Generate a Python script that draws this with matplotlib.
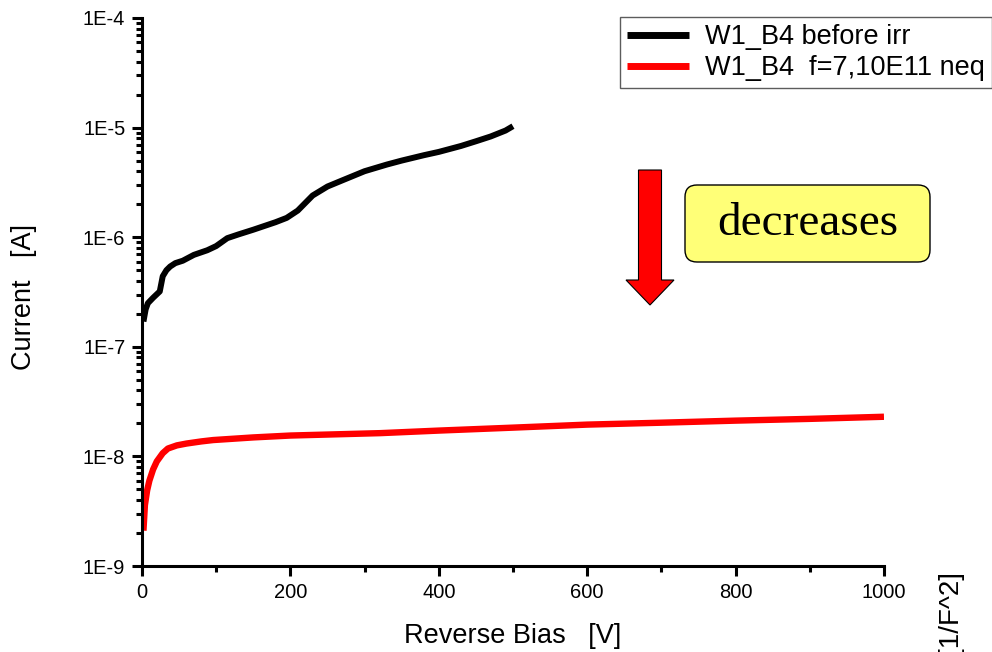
import numpy as np
import matplotlib
matplotlib.use("Agg")
import matplotlib.pyplot as plt
from matplotlib.ticker import LogLocator, FuncFormatter, MultipleLocator, NullFormatter
from matplotlib.patches import FancyArrow, FancyBboxPatch

plt.rcParams['font.family'] = ['Liberation Sans', 'DejaVu Sans']

# W1_B4 before irradiation
bias_before = [2, 5, 8, 15, 24, 28, 33, 38, 45, 55, 70, 88, 100, 115, 130, 150, 180, 195,
               210, 230, 250, 270, 300, 330, 350, 380, 400, 430, 450, 470, 490, 500]
curr_before = [1.7e-7, 2.2e-7, 2.5e-7, 2.8e-7, 3.2e-7, 4.4e-7, 5.0e-7, 5.4e-7, 5.8e-7, 6.1e-7,
               6.9e-7, 7.6e-7, 8.3e-7, 9.8e-7, 1.06e-6, 1.17e-6, 1.37e-6, 1.5e-6,
               1.75e-6, 2.4e-6, 2.9e-6, 3.3e-6, 4.0e-6, 4.6e-6, 5.0e-6, 5.6e-6, 6.0e-6,
               6.8e-6, 7.5e-6, 8.3e-6, 9.4e-6, 1.03e-5]

# W1_B4 after irradiation f=7,10E11 neq
bias_after = [2, 4, 7, 10, 15, 20, 28, 35, 47, 60, 80, 96, 150, 200, 321, 400, 500, 600,
              700, 800, 900, 1000]
curr_after = [2.1e-9, 3.6e-9, 4.9e-9, 6.0e-9, 7.6e-9, 9.0e-9, 1.07e-8, 1.18e-8, 1.26e-8,
              1.31e-8, 1.37e-8, 1.41e-8, 1.49e-8, 1.55e-8, 1.63e-8, 1.72e-8, 1.83e-8, 1.95e-8,
              2.03e-8, 2.12e-8, 2.2e-8, 2.3e-8]

fig = plt.figure(figsize=(9.92, 6.52), dpi=100)
ax = fig.add_axes([0.1431, 0.1319, 0.748, 0.8405])

ax.plot(bias_before, curr_before, color='black', lw=4.3, solid_capstyle='butt',
        label='W1_B4 before irr')
ax.plot(bias_after, curr_after, color='red', lw=4.6, solid_capstyle='butt',
        label='W1_B4  f=7,10E11 neq')

ax.set_yscale('log')
ax.set_xlim(0, 1000)
ax.set_ylim(1e-9, 1e-4)
ax.xaxis.set_major_locator(MultipleLocator(200))
ax.xaxis.set_minor_locator(MultipleLocator(100))
ax.yaxis.set_major_locator(LogLocator(base=10, numticks=10))
ax.yaxis.set_minor_locator(LogLocator(base=10, subs=np.arange(2, 10), numticks=20))
ax.yaxis.set_minor_formatter(NullFormatter())
ax.yaxis.set_major_formatter(FuncFormatter(lambda v, p: '1E%d' % round(np.log10(v))))

for s in ['top', 'right']:
    ax.spines[s].set_visible(False)
for s in ['left', 'bottom']:
    ax.spines[s].set_linewidth(2.2)
ax.tick_params(which='major', direction='out', length=7, width=2.2, labelsize=14.5, pad=5)
ax.tick_params(which='minor', direction='out', length=4, width=2.2)

ax.set_xlabel('Reverse Bias   [V]', fontsize=19.5, labelpad=15)
ax.set_ylabel('Current   [A]', fontsize=19.5)
ax.yaxis.set_label_coords(-0.1415, 0.49)

leg = ax.legend(loc='upper left', bbox_to_anchor=(620 / 992, 1 - 17 / 652),
                bbox_transform=fig.transFigure, fontsize=19.5, frameon=True,
                fancybox=False, borderpad=0.25, handlelength=2.3, handletextpad=0.6,
                labelspacing=0.2, borderaxespad=0, handleheight=0.6)
leg.get_frame().set_edgecolor('#333333')
leg.get_frame().set_linewidth(1.0)
for line in leg.get_lines():
    line.set_linewidth(5)

# red arrow and note box (figure pixels / dpi -> inches)
arrow = FancyArrow(6.50, 6.52 - 1.70, 0, -1.35, width=0.23, head_width=0.48,
                   head_length=0.25, length_includes_head=True,
                   facecolor='red', edgecolor='black', linewidth=0.8,
                   transform=fig.dpi_scale_trans)
fig.add_artist(arrow)

box = FancyBboxPatch((6.85, 6.52 - 2.62), 2.45, 0.77,
                     boxstyle='round,pad=0,rounding_size=0.12',
                     facecolor='#ffff77', edgecolor='black', linewidth=1.0,
                     transform=fig.dpi_scale_trans)
fig.add_artist(box)
fig.text(8.08 / 9.92, 1 - 2.24 / 6.52, 'decreases', fontsize=34,
         family=['Liberation Serif', 'DejaVu Serif'], ha='center', va='center')

fig.text(950 / 992, 1 - 570 / 652, '[1/F^2]', rotation=90, fontsize=20,
         ha='center', va='top')

fig.savefig('out.png', dpi=100)
